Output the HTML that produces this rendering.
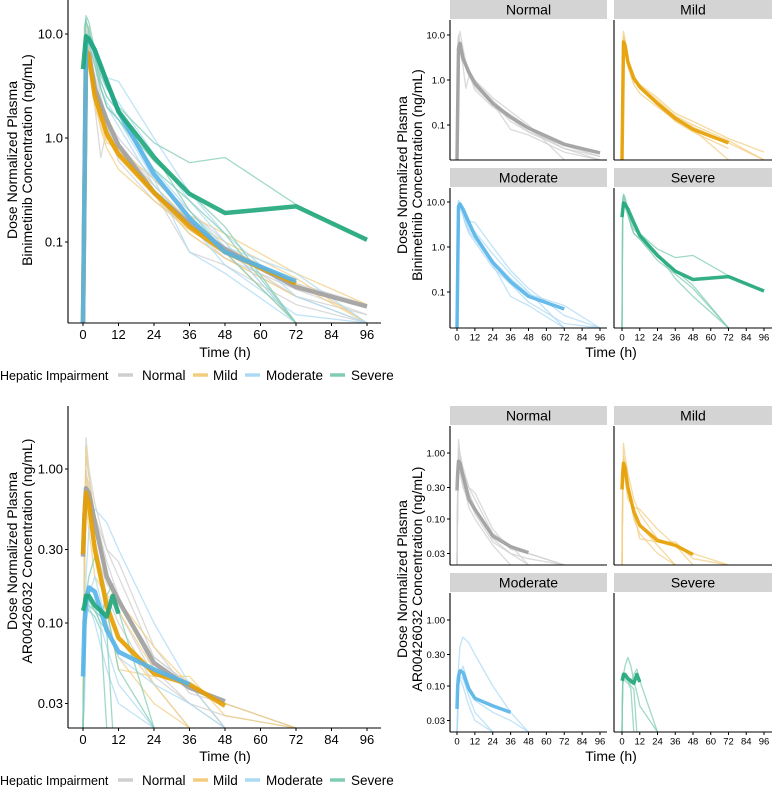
<!DOCTYPE html>
<html><head><meta charset="utf-8"><style>
body{margin:0;background:#fff}
svg text{font-family:"Liberation Sans",Arial,sans-serif;fill:#000}
</style></head><body>
<svg id="c" width="772" height="787" xmlns="http://www.w3.org/2000/svg"></svg>
<script>
// ---------- DATA ----------
const groups = ["Normal","Mild","Moderate","Severe"];
const timeTicks = [0,12,24,36,48,60,72,84,96];
const biniTicks = [10,1,0.1];
const biniTickLabels = ["10.0","1.0","0.1"];
const arTicks = [1,0.3,0.1,0.03];
const arTickLabels = ["1.00","0.30","0.10","0.03"];

const biniTimes = [0,0.5,1,2,4,6,8,12,24,36,48,72,96];
const biniMeanTimes = [0,1,2,4,8,12,24,36,48,72,96];
const biniMeanNormal = [0,5,6.5,3,1.5,0.85,0.3,0.15,0.085,0.037,0.024];
const biniMeanMild = [0,7,6,2.5,1.1,0.7,0.3,0.14,0.08,0.04,null];
const biniMeanModerate = [0,8,9,7,3.5,1.8,0.45,0.17,0.08,0.042,null];
const biniMeanSevere = [4.6,9.5,9,7,3.5,1.8,0.65,0.29,0.19,0.22,0.105];

const biniIndNormal = [
 [0,3,8,12,5,2.5,1.5,0.9,0.35,0.15,0.08,0.03,0],
 [0,2,6,5,2,0.65,1.2,0.8,0.3,0.12,0.07,0.035,0.02],
 [0,4,7,6,3.5,2,1.3,0.7,0.28,0.17,0.09,0.04,0.025],
 [0,6,10,7,3,1.8,1.2,0.75,0.3,0.08,0.06,0.025,0],
 [0,4,9,6,4,2.2,1.5,1.0,0.4,0.2,0.1,0,null],
 [0,3,6,5,3,2,1.4,0.6,0.25,0.14,0.07,0.03,0.02]];
const biniIndMild = [
 [0,5,9,7,3,1.5,1,0.7,0.3,0.15,0.09,0.04,0],
 [0,6,12,8,2.5,1.2,0.8,0.5,0.25,0.13,0.08,0,null],
 [0,4,7,6,3,1.7,1.1,0.75,0.35,0.16,0.1,0.045,0],
 [0,5,8,6,2,1.3,0.9,0.8,0.4,0.18,0.12,0.05,0.025],
 [0,6,10,7,3,1.5,1,0.65,0.28,0.12,0.07,0.03,null]];
const biniIndModerate = [
 [0,6,9,10,7,4.5,3.8,3.5,1.0,0.3,0.12,0.03,0],
 [0,7,10,9,6,3.5,2.5,1.8,0.5,0.2,0.09,0.05,0],
 [0,5,8,8,5,3,2.2,1.5,0.4,0.08,0.05,0,null],
 [0,8,11,9,5,3,2,1.3,0.35,0.15,0.06,0.02,0],
 [0,6,9,9,6,4,3,2.2,0.7,0.25,0.1,0,null]];
const biniIndSevere = [
 [0,8,15,13,7,4,3,2,0.9,0.58,0.65,0.23,0.105],
 [0,12,14,10,6,3,2,1.5,0.6,0.3,0.14,0,null],
 [0,6,10,8,5,3,2,1.5,0.5,0.25,0.12,0,null],
 [0,9,13,11,6,3.5,2.5,1.8,0.7,0.2,0.08,0,null]];

const arTimes = [0,0.5,1,2,4,8,12,24,36,48,72];
const arMeanNormal = [0.27,0.5,0.75,0.7,0.45,0.2,0.14,0.055,0.038,0.031,null];
const arMeanMild = [0.28,0.5,0.7,0.6,0.3,0.13,0.08,0.047,0.04,0.029,null];
const arMeanModerate = [0.045,0.1,0.14,0.17,0.16,0.09,0.065,0.05,0.04,null,null];
const arSevTimes = [0,0.5,1,2,4,6,8,10,12,24];
const arMeanSevere = [0.12,0.13,0.15,0.15,0.13,0.12,0.11,0.15,0.115,null];

const arIndNormal = [
 [0,0.3,1.6,1.0,0.6,0.3,0.2,0.06,0.04,0.03,0],
 [0,0.2,0.9,0.8,0.5,0.25,0.15,0.05,0.03,0,null],
 [0,0.4,1.2,0.9,0.4,0.2,0.12,0.045,0.03,0.025,0],
 [0,0.25,0.7,0.6,0.35,0.15,0.1,0.04,0,null,null],
 [0,0.3,1.0,0.7,0.5,0.3,0.25,0.07,0.035,0.03,0],
 [0,0.2,0.6,0.5,0.3,0.18,0.14,0.06,0.04,0,null]];
const arIndMild = [
 [0,0.3,1.4,0.9,0.5,0.2,0.12,0.05,0.04,0.03,0],
 [0,0.2,0.8,0.6,0.3,0.12,0.08,0.04,0,null,null],
 [0,0.3,0.6,0.4,0.2,0.15,0.14,0.07,0.04,0,null],
 [0,0.25,0.9,0.7,0.35,0.1,0.06,0.03,0,null,null],
 [0,0.3,0.7,0.5,0.3,0.12,0.05,0.045,0.045,0.025,0]];
const arIndModerate = [
 [0,0.05,0.2,0.4,0.55,0.45,0.3,0.1,0.04,0,null],
 [0,0.03,0.1,0.15,0.2,0.1,0.06,0.04,0.03,0,null],
 [0,0.04,0.12,0.14,0.13,0.07,0.04,0,null,null,null],
 [0,0.05,0.1,0.13,0.1,0.05,0.03,0,null,null,null]];
const arIndSevere = [
 [0,0.1,0.15,0.2,0.27,0.2,0.12,0.08,0.05,0],
 [0,0.12,0.14,0.13,0.12,0.1,0.09,0,null,null],
 [0,0.1,0.13,0.12,0.11,0.09,0,null,null,null],
 [0,0.13,0.16,0.14,0.12,0.11,0.15,0.18,0.12,0]];

// ---------- RENDER ----------
const NS="http://www.w3.org/2000/svg", svg=document.getElementById('c');
const colors={Normal:"#9e9e9e",Mild:"#E69F00",Moderate:"#56B4E9",Severe:"#1fa67a"};
const thinColors={Normal:"#cfcfcf",Mild:"#f2cd80",Moderate:"#acdaf4",Severe:"#80ccb2"};
function el(tag,attrs,parent){const e=document.createElementNS(NS,tag);for(const k in attrs)e.setAttribute(k,attrs[k]);(parent||svg).appendChild(e);return e;}
function txt(s,x,y,size,anchor,parent,rot){const t=el('text',{x:x,y:y,'font-size':size,'text-anchor':anchor||'middle'},parent);if(rot)t.setAttribute('transform',`rotate(-90 ${x} ${y})`);t.textContent=s;return t;}
let clipId=0;
function panel(p){
 const g=el('g',{});
 
 
 const sx=t=>p.x0+(p.x1-p.x0)*t/96;
 const sy=v=>{if(v<=0)return p.bottom;return Math.min(p.bottom,p.yRef[1]-(Math.log10(v)-Math.log10(p.yRef[0]))*p.dec);};
 const cid='cl'+(clipId++);
 const cp=el('clipPath',{id:cid},g);el('rect',{x:p.left,y:p.top,width:p.right-p.left,height:p.bottom-p.top},cp);
 const lg=el('g',{'clip-path':`url(#${cid})`},g);
 function line(times,vals,color,w,op,name){
  let d='';vals.forEach((v,i)=>{if(v===null)return;d+=(d?'L':'M')+sx(times[i]).toFixed(1)+','+sy(v).toFixed(1);});
  const pth=el('path',{d:d,fill:'none',stroke:color,'stroke-width':w,'stroke-opacity':op,'stroke-linejoin':'round','stroke-linecap':'butt'},lg);
  
  
 }
 p.series.forEach(s=>s.ind.forEach((v,i)=>line(s.indT,v,thinColors[s.g],1.3,0.75,s.g.toLowerCase()+'-subject-'+(i+1))));
 p.series.forEach(s=>line(s.meanT,s.mean,colors[s.g],p.mw,0.9,s.g.toLowerCase()+'-mean-line'));
 el('line',{x1:p.left,y1:p.top,x2:p.left,y2:p.bottom,stroke:'#000','stroke-width':1.1},g);
 el('line',{x1:p.left,y1:p.bottom,x2:p.right,y2:p.bottom,stroke:'#000','stroke-width':1.1},g);
 if(p.showX) timeTicks.forEach(t=>{el('line',{x1:sx(t),y1:p.bottom,x2:sx(t),y2:p.bottom+3,stroke:'#000'},g);const tt=txt(String(t),sx(t),p.bottom+p.fs+3,p.fs,'middle',g);});
 if(p.showY) p.yt.forEach((v,i)=>{el('line',{x1:p.left-3,y1:sy(v),x2:p.left,y2:sy(v),stroke:'#000'},g);const tt=txt(p.ytl[i],p.left-5,sy(v)+p.fs*0.36,p.fs,'end',g);});
 if(p.strip){const r=el('rect',{x:p.left,y:p.top-20,width:p.right-p.left,height:19,fill:'#d4d4d4'},g);
  const st=txt(p.strip,(p.left+p.right)/2,p.top-5.5,14,'middle',g);}
}
function S(gn,indT,ind,meanT,mean){return {g:gn,indT:indT,ind:ind,meanT:meanT,mean:mean};}
const B={Normal:S("Normal",biniTimes,biniIndNormal,biniMeanTimes,biniMeanNormal),Mild:S("Mild",biniTimes,biniIndMild,biniMeanTimes,biniMeanMild),
 Moderate:S("Moderate",biniTimes,biniIndModerate,biniMeanTimes,biniMeanModerate),Severe:S("Severe",biniTimes,biniIndSevere,biniMeanTimes,biniMeanSevere)};
const A={Normal:S("Normal",arTimes,arIndNormal,arTimes,arMeanNormal),Mild:S("Mild",arTimes,arIndMild,arTimes,arMeanMild),
 Moderate:S("Moderate",arTimes,arIndModerate,arTimes,arMeanModerate),Severe:S("Severe",arSevTimes,arIndSevere,arSevTimes,arMeanSevere)};
panel({name:'binimetinib-combined-panel',x0:83,x1:367,left:68,right:381,top:0,bottom:323,yRef:[1,138],dec:104,fs:13,mw:4.5,showY:true,showX:true,yt:biniTicks,ytl:biniTickLabels,series:groups.map(k=>B[k])});
panel({name:'ar00426032-combined-panel',x0:83,x1:367,left:68,right:381,top:406,bottom:728,yRef:[1,469],dec:154,fs:13,mw:4.5,showY:true,showX:true,yt:arTicks,ytl:arTickLabels,series:groups.map(k=>A[k])});
const fx=[[450,607,457,600],[614,772,622,764]];
const fyB=[[20,160,80],[188,328,247]];
const fyA=[[426,565,453],[593,732,620]];
groups.forEach((k,i)=>{const c=fx[i%2],row=Math.floor(i/2),r=fyB[row];
 panel({name:'binimetinib-facet-'+k.toLowerCase(),strip:k,x0:c[2],x1:c[3],left:c[0],right:c[1],top:r[0],bottom:r[1],yRef:[1,r[2]],dec:45,fs:9.5,mw:3.5,showY:i%2===0,showX:row===1,yt:biniTicks,ytl:biniTickLabels,series:[B[k]]});
 const ra=fyA[row];
 panel({name:'ar00426032-facet-'+k.toLowerCase(),strip:k,x0:c[2],x1:c[3],left:c[0],right:c[1],top:ra[0],bottom:ra[1],yRef:[1,ra[2]],dec:66,fs:9.5,mw:3.5,showY:i%2===0,showX:row===1,yt:arTicks,ytl:arTickLabels,series:[A[k]]});
});
function lab(s,x,y,size,rot,name){const t=txt(s,x,y,size,'middle',svg,rot);}
lab('Time (h)',225,357,14,false,'x-axis-title');
lab('Time (h)',611,357,14,false,'x-axis-title');
lab('Time (h)',225,761,14,false,'x-axis-title');
lab('Time (h)',611,761,14,false,'x-axis-title');
lab('Dose Normalized Plasma',17,160,14,true,'y-axis-title');lab('Binimetinib Concentration (ng/mL)',32,160,14,true,'y-axis-title');
lab('Dose Normalized Plasma',407,175,14,true,'y-axis-title');lab('Binimetinib Concentration (ng/mL)',422,175,14,true,'y-axis-title');
lab('Dose Normalized Plasma',17,551,14,true,'y-axis-title');lab('AR00426032 Concentration (ng/mL)',32,551,14,true,'y-axis-title');
lab('Dose Normalized Plasma',407,579,14,true,'y-axis-title');lab('AR00426032 Concentration (ng/mL)',422,579,14,true,'y-axis-title');
[380,785].forEach(y=>{
 const lgd=el('g',{});
 txt('Hepatic Impairment',0,y,12.5,'start',lgd);
 const kx=[118,193,245,330],lx=[142,213,266,351];
 groups.forEach((k,i)=>{const e=el('line',{x1:kx[i],y1:y-5,x2:kx[i]+15,y2:y-5,stroke:thinColors[k],'stroke-width':3.5},lgd);
  
  txt(k,lx[i],y,13.5,'start',lgd);});
});
</script>
</body></html>
